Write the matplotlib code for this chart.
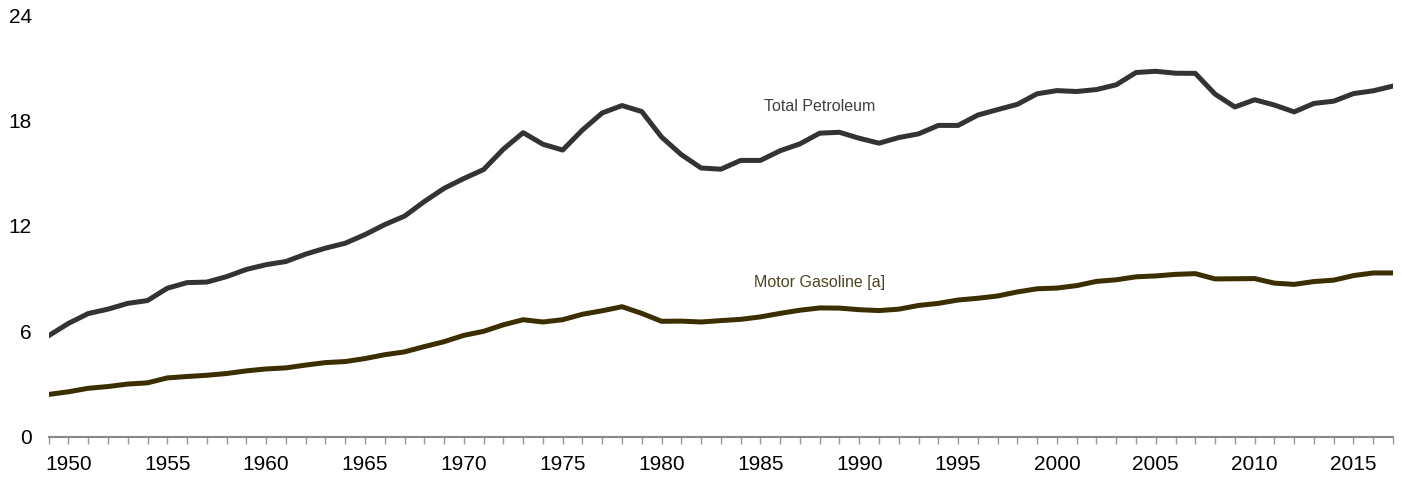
import matplotlib.pyplot as plt
import numpy as np
from matplotlib.ticker import MultipleLocator, FixedLocator

plt.rcParams['font.family'] = ['Liberation Sans', 'DejaVu Sans']

years = np.arange(1949, 2018)

# million barrels per day
total_petroleum = [5.76, 6.46, 7.02, 7.27, 7.60, 7.76, 8.46, 8.78, 8.81, 9.12,
                   9.53, 9.80, 9.98, 10.40, 10.74, 11.02, 11.51, 12.08, 12.56, 13.39,
                   14.14, 14.70, 15.21, 16.37, 17.31, 16.65, 16.32, 17.46, 18.43, 18.85,
                   18.51, 17.06, 16.06, 15.30, 15.23, 15.73, 15.73, 16.28, 16.67, 17.28,
                   17.33, 16.99, 16.71, 17.03, 17.24, 17.72, 17.72, 18.31, 18.62, 18.92,
                   19.52, 19.70, 19.65, 19.76, 20.03, 20.73, 20.80, 20.69, 20.68, 19.50,
                   18.77, 19.18, 18.88, 18.49, 18.97, 19.10, 19.53, 19.69, 19.96]

motor_gasoline = [2.42, 2.57, 2.77, 2.87, 3.01, 3.08, 3.36, 3.44, 3.51, 3.61,
                  3.76, 3.87, 3.93, 4.09, 4.23, 4.29, 4.46, 4.68, 4.84, 5.14,
                  5.42, 5.78, 6.01, 6.38, 6.67, 6.54, 6.67, 6.98, 7.18, 7.41,
                  7.03, 6.58, 6.59, 6.54, 6.62, 6.69, 6.83, 7.03, 7.21, 7.34,
                  7.33, 7.24, 7.19, 7.27, 7.48, 7.60, 7.79, 7.89, 8.02, 8.25,
                  8.43, 8.47, 8.61, 8.85, 8.94, 9.11, 9.16, 9.25, 9.29, 8.99,
                  9.00, 9.01, 8.75, 8.68, 8.84, 8.92, 9.18, 9.33, 9.33]

y_ticks = [0, 6, 12, 18, 24]
x_labels = list(range(1950, 2016, 5))

fig = plt.figure(figsize=(14.02, 4.78), dpi=100)
ax = fig.add_axes([0.0347, 0.0858, 0.9589, 0.8828])

ax.plot(years, total_petroleum, color='#333333', lw=3.6, solid_joinstyle='round')
ax.plot(years, motor_gasoline, color='#3b2e00', lw=3.6, solid_joinstyle='round')

ax.text(1988, 18.77, 'Total Petroleum', fontsize=11.5, color='#404040',
        ha='center', va='center')
ax.text(1988, 8.76, 'Motor Gasoline [a]', fontsize=11.5, color='#4f4421',
        ha='center', va='center')

ax.set_xlim(1949, 2017)
ax.set_ylim(0, 24)
ax.set_yticks(y_ticks)
ax.xaxis.set_major_locator(FixedLocator(x_labels))
ax.xaxis.set_minor_locator(MultipleLocator(1))

for s in ['top', 'right', 'left']:
    ax.spines[s].set_visible(False)
ax.spines['bottom'].set_color('#888888')
ax.spines['bottom'].set_linewidth(1.5)

ax.tick_params(axis='x', which='both', direction='out', length=5, width=1,
               color='#999999', labelsize=15, pad=8)
ax.tick_params(axis='y', length=0, labelsize=15, pad=12)

fig.savefig('out.png', dpi=100)
